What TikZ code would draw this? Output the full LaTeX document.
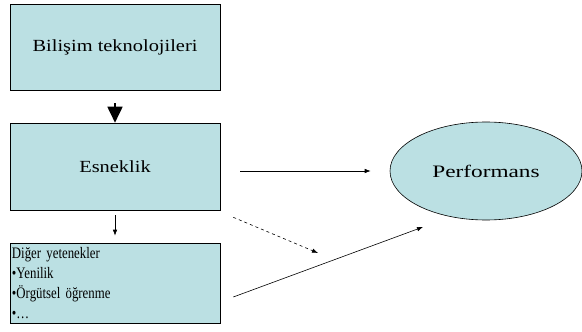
\documentclass[tikz,border=0pt]{standalone}
\usepackage{fontspec}
\setmainfont{Liberation Serif}
\newfontfamily\widefont[FakeStretch=1.2]{Liberation Serif}
\newfontfamily\widerfont[FakeStretch=1.33]{Liberation Serif}
\newfontfamily\narrowfont[FakeStretch=0.8]{Liberation Serif}
\usetikzlibrary{arrows.meta, positioning, calc, shapes.geometric}
\definecolor{boxfill}{HTML}{BBE0E3}
\definecolor{dark}{HTML}{000000}
\tikzset{
  font=\widefont\fontsize{17}{20}\selectfont,
  stagebox/.style={rectangle, draw=dark, line width=0.6pt, fill=boxfill, text=dark,
                   align=center, minimum width=210pt, minimum height=86pt},
  listbox/.style={rectangle, draw=dark, line width=0.6pt, fill=boxfill, text=dark,
                  font=\narrowfont\fontsize{16}{20}\selectfont,
                  align=left, text width=206pt, inner xsep=2pt, inner ysep=0pt,
                  minimum height=80pt},
  target/.style={ellipse, draw=dark, line width=0.6pt, fill=boxfill, text=dark,
                 font=\widerfont\fontsize{17.5}{20}\selectfont,
                 minimum width=192pt, minimum height=98pt},
  mainlink/.style={-{Triangle[length=16pt, width=15pt]}, draw=dark, line width=1.8pt},
  link/.style={-{Latex[length=6pt, width=4.5pt]}, draw=dark, line width=0.6pt},
  weaklink/.style={-{Latex[length=6pt, width=4.5pt]}, draw=dark, line width=0.6pt, dashed},
}
\begin{document}
\begin{tikzpicture}[x=1pt, y=-1pt]
\useasboundingbox (0,0) rectangle (582,332);

\node[stagebox] (bt)   at (115, 47)  {Bilişim teknolojileri};
\node[stagebox, minimum height=87pt] (esn) at (115, 166.5) {Esneklik};
\node[listbox]  (oth)  at (115, 283) {Diğer yetenekler\\ •Yenilik\\ •Örgütsel öğrenme\\ •…};
\node[target]   (perf) at (486, 171) {Performans};

\coordinate (dashend) at (318, 253);
\coordinate (perfin)  at (423, 227);

% --- links ---
\draw[mainlink] ([yshift=-13pt]bt.south) -- (esn.north);
\draw[link] ([yshift=-5pt]esn.south) -- ([yshift=7pt]oth.north);
\draw[link] ([xshift=20pt]esn.east |- perf.west) -- ([xshift=-19pt]perf.west);
\draw[weaklink] ([shift={(13,7)}]esn.south east) -- (dashend);
\draw[link] ([shift={(13,14)}]oth.east) -- (perfin);

\end{tikzpicture}
\end{document}
